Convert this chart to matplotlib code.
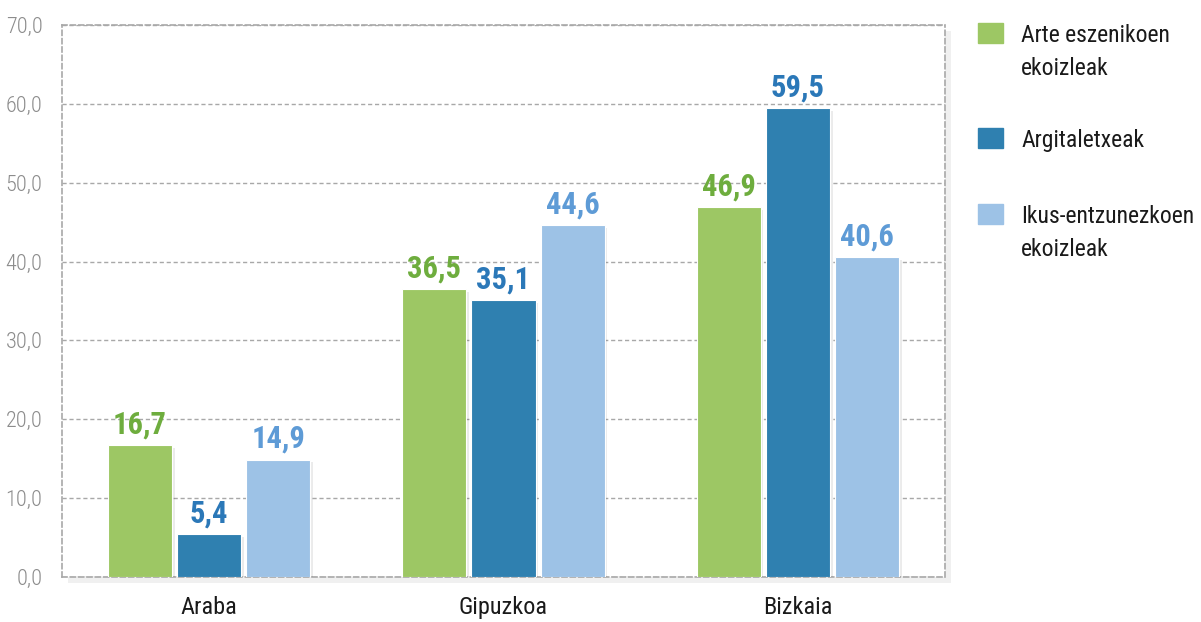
import numpy as np
import matplotlib.pyplot as plt
from matplotlib import patheffects as pe
from matplotlib.patches import Rectangle

# Data
regions = ["Araba", "Gipuzkoa", "Bizkaia"]
series = ["Arte eszenikoen\nekoizleak", "Argitaletxeak", "Ikus-entzunezkoen\nekoizleak"]
arte = [16.7, 36.5, 46.9]
argitaletxeak = [5.4, 35.1, 59.5]
ikus = [14.9, 44.6, 40.6]
yticks = [0, 10, 20, 30, 40, 50, 60, 70]

bar_colors = ["#9DC764", "#2F80B0", "#9DC2E6"]
label_colors = ["#6EAD3E", "#2B78B8", "#5E9BD6"]

plt.rcParams['font.family'] = ['Roboto Condensed', 'Archivo Narrow', 'Asap Condensed', 'DejaVu Sans']

fig = plt.figure(figsize=(12.01, 6.22), dpi=100)
ax = fig.add_axes([0.0516, 0.0723, 0.7352, 0.8875])

x = np.arange(len(regions))
width = 0.218
step = 0.235
shadow = [pe.SimplePatchShadow(offset=(2, -2), shadow_rgbFace="black", alpha=0.08), pe.Normal()]

for i, vals in enumerate([arte, argitaletxeak, ikus]):
    bars = ax.bar(x + (i - 1) * step, vals, width, color=bar_colors[i],
                  edgecolor="white", linewidth=0.8, zorder=3)
    for b in bars:
        b.set_path_effects(shadow)
    for xi, v in zip(x + (i - 1) * step, vals):
        ax.annotate(f"{v:.1f}".replace(".", ","), (xi, v), xytext=(0, 4),
                    textcoords="offset points", ha="center", va="bottom",
                    fontsize=22, fontweight="bold", color=label_colors[i], zorder=4)

ax.set_xlim(-0.5, 2.5)
ax.set_ylim(0, 70)
ax.set_yticks(yticks)
ax.set_yticklabels([f"{t:.1f}".replace(".", ",") for t in yticks], fontweight="light")
ax.set_xticks(x)
ax.set_xticklabels(regions)
ax.tick_params(axis="y", length=0, pad=14, labelsize=16, labelcolor="#8C8C8C")
ax.tick_params(axis="x", length=0, pad=14, labelsize=17.5, labelcolor="#1A1A1A")

ax.yaxis.grid(True, linestyle=(0, (3, 2)), color="#A8A8A8", linewidth=1, zorder=0)
ax.set_axisbelow(True)
for s in ax.spines.values():
    s.set_linestyle((0, (3, 2)))
    s.set_color("#A8A8A8")
    s.set_linewidth(1.2)
ax.patch.set_path_effects([pe.SimplePatchShadow(offset=(4, -4), shadow_rgbFace="black", alpha=0.06), pe.Normal()])

# Legend drawn on the figure
W, H = 1201, 622
legend_y = [23, 128, 204]
for i, label in enumerate(series):
    fig.add_artist(Rectangle((978 / W, 1 - (legend_y[i] + 20) / H), 25 / W, 20 / H,
                             transform=fig.transFigure, color=bar_colors[i]))
    fig.text(1021 / W, 1 - (legend_y[i] + 1) / H, label, ha="left", va="top",
             fontsize=17, color="#1A1A1A", linespacing=1.55)

fig.savefig("out.png", dpi=100)
